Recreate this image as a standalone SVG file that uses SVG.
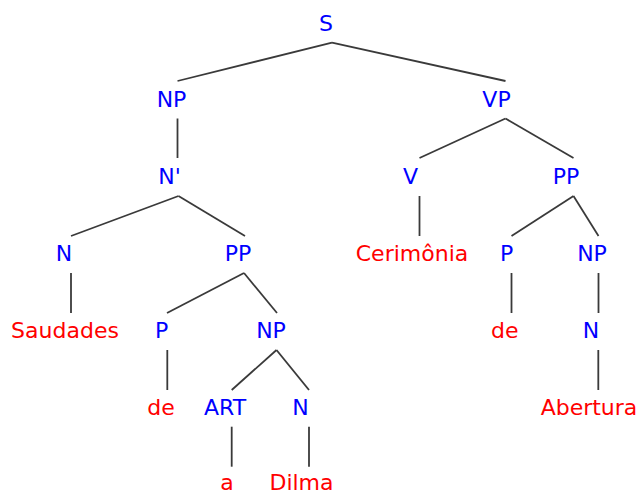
<svg xmlns="http://www.w3.org/2000/svg" width="640" height="493" viewBox="0 0 640 493">
<style>
text{font-family:"DejaVu Sans",sans-serif;font-size:22px;text-anchor:middle}
.c{fill:#0000ff}
.w{fill:#ff0000}
#edges line{stroke:#3a3a3a;stroke-width:1.8}
</style>
<rect width="640" height="493" fill="#fff"/>
<g id="edges">
<line x1="332" y1="42.7" x2="177.5" y2="81"/>
<line x1="332" y1="42.7" x2="505.5" y2="81"/>
<line x1="177.5" y1="118.5" x2="177.5" y2="158"/>
<line x1="505.5" y1="118.5" x2="419.5" y2="158"/>
<line x1="505.5" y1="118.5" x2="573.5" y2="158"/>
<line x1="178.5" y1="196" x2="71" y2="236"/>
<line x1="178.5" y1="196" x2="245" y2="236"/>
<line x1="419.5" y1="196" x2="419.5" y2="236"/>
<line x1="573.5" y1="196" x2="511.5" y2="236"/>
<line x1="573.5" y1="196" x2="598.5" y2="236"/>
<line x1="71" y1="273" x2="71" y2="313"/>
<line x1="244" y1="273" x2="167" y2="313"/>
<line x1="244" y1="273" x2="277" y2="313"/>
<line x1="511.5" y1="273" x2="511.5" y2="313"/>
<line x1="598.5" y1="273" x2="598.5" y2="313"/>
<line x1="167.3" y1="350" x2="167.3" y2="390"/>
<line x1="276.5" y1="350" x2="231.7" y2="390"/>
<line x1="276.5" y1="350" x2="309" y2="390"/>
<line x1="598.3" y1="350" x2="598.3" y2="390"/>
<line x1="231.7" y1="426.7" x2="231.7" y2="466.7"/>
<line x1="309" y1="426.7" x2="309" y2="466.7"/>
</g>
<g id="n-S"><text class="c" x="326" y="30.5">S</text></g>
<g id="n-NP1"><text class="c" x="171.5" y="107.3">NP</text></g>
<g id="n-VP"><text class="c" x="496.5" y="107.3">VP</text></g>
<g id="n-Nbar"><text class="c" x="169.5" y="184.1">N'</text></g>
<g id="n-V"><text class="c" x="410.5" y="184.1">V</text></g>
<g id="n-PP2"><text class="c" x="566" y="184.1">PP</text></g>
<g id="n-N1"><text class="c" x="64" y="260.9">N</text></g>
<g id="n-PP1"><text class="c" x="238" y="260.9">PP</text></g>
<g id="n-Cerimonia"><text class="w" x="412" y="260.9">Cerimônia</text></g>
<g id="n-P2"><text class="c" x="506.7" y="260.9">P</text></g>
<g id="n-NP3"><text class="c" x="592" y="260.9">NP</text></g>
<g id="n-Saudades"><text class="w" x="65" y="337.7">Saudades</text></g>
<g id="n-P1"><text class="c" x="161.7" y="337.7">P</text></g>
<g id="n-NP2"><text class="c" x="271" y="337.7">NP</text></g>
<g id="n-de2"><text class="w" x="504.7" y="337.7">de</text></g>
<g id="n-N3"><text class="c" x="591" y="337.7">N</text></g>
<g id="n-de1"><text class="w" x="161" y="414.5">de</text></g>
<g id="n-ART"><text class="c" x="225" y="414.5">ART</text></g>
<g id="n-N2"><text class="c" x="300.5" y="414.5">N</text></g>
<g id="n-Abertura"><text class="w" x="589" y="414.5">Abertura</text></g>
<g id="n-a"><text class="w" x="227" y="490">a</text></g>
<g id="n-Dilma"><text class="w" x="301.5" y="490">Dilma</text></g>
</svg>
